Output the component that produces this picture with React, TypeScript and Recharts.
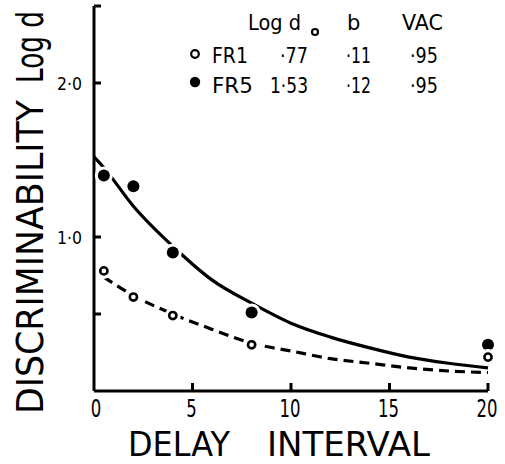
import { ComposedChart, Line, XAxis, YAxis } from "recharts";

const curveDelays = [0, 0.5, 2, 4, 6, 8, 10, 12, 14, 16, 18, 20];
const fr5Fit = [1.52, 1.45, 1.2, 0.94, 0.72, 0.57, 0.44, 0.35, 0.28, 0.22, 0.18, 0.15];
const fr1Fit = [null, 0.74, 0.62, 0.5, 0.4, 0.31, 0.26, 0.21, 0.18, 0.15, 0.13, 0.12];

// observed points
const pointDelays = [0.5, 2, 4, 8, 20];
const fr1Points = [0.78, 0.61, 0.49, 0.3, 0.22];
const fr5Points = [1.4, 1.33, 0.9, 0.51, 0.3];

const xTicks = [0, 5, 10, 15, 20];
const xTickLabels = ["0", "5", "10", "15", "20"];
const yTicks = [0.5, 1, 2, 2.5];
const yTickLabels = ["", "1·0", "2·0", ""];

const tableHeader = ["Log d", "b", "VAC"];
const groups = ["FR1", "FR5"];
const logD0 = ["·77", "1·53"];
const bValues = ["·11", "·12"];
const vacValues = ["·95", "·95"];

const FONT = "'DejaVu Sans', sans-serif";

const rows = curveDelays.map((t, i) => {
  const pi = pointDelays.indexOf(t);
  return {
    t,
    fr5: fr5Fit[i],
    fr1: fr1Fit[i],
    fr5pt: pi >= 0 ? fr5Points[pi] : null,
    fr1pt: pi >= 0 ? fr1Points[pi] : null,
  };
});
pointDelays.forEach((t, pi) => {
  if (!curveDelays.includes(t)) {
    rows.push({ t, fr5: null as any, fr1: null, fr5pt: fr5Points[pi], fr1pt: fr1Points[pi] });
  }
});
rows.sort((a, b) => a.t - b.t);

// text squeezed to a target width: natural width (em) is an estimate for DejaVu Sans
function Squeezed({ x, y, rotate = 0, size, em, width, anchor = "start", children }: any) {
  const natural = em * size;
  const sx = width / natural;
  return (
    <text
      transform={`translate(${x},${y}) rotate(${rotate}) scale(${sx},1)`}
      fontSize={size}
      textAnchor={anchor}
      textLength={natural}
      lengthAdjust="spacingAndGlyphs"
    >
      {children}
    </text>
  );
}

function XTick(props: any) {
  const { x, y, payload } = props;
  const i = xTicks.indexOf(payload.value);
  const label = xTickLabels[i] ?? String(payload.value);
  return (
    <g>
      {payload.value !== 0 && <path d={`M${x},${y} L${x},${y - 8}`} stroke="#000" strokeWidth={3} fill="none" />}
      <g fontFamily={FONT} fill="#000">
        <Squeezed
          x={payload.value === 0 ? x + 2 : x - 1}
          y={y + 26}
          size={24}
          em={label.length * 0.636}
          width={label.length * 10.5}
          anchor="middle"
        >
          {label}
        </Squeezed>
      </g>
    </g>
  );
}

function YTick(props: any) {
  const { x, y, payload } = props;
  const i = yTicks.indexOf(payload.value);
  const label = yTickLabels[i] ?? "";
  return (
    <g>
      <path d={`M${x},${y} L${x + 7},${y}`} stroke="#000" strokeWidth={3} fill="none" />
      {label && (
        <g fontFamily={FONT} fill="#000">
          <Squeezed x={x - 12} y={y + 6.5} size={18} em={1.59} width={25} anchor="end">
            {label}
          </Squeezed>
        </g>
      )}
    </g>
  );
}

function FilledDot(props: any) {
  const { cx, cy, index } = props;
  if (cy == null || isNaN(cy)) return <g key={"f" + index} />;
  return (
    <g key={"f" + index}>
      <circle cx={cx} cy={cy} r={9} fill="#fff" />
      <circle cx={cx} cy={cy} r={6} fill="#000" />
    </g>
  );
}

function OpenDot(props: any) {
  const { cx, cy, index } = props;
  if (cy == null || isNaN(cy)) return <g key={"o" + index} />;
  return (
    <g key={"o" + index}>
      <circle cx={cx} cy={cy} r={8} fill="#fff" />
      <circle cx={cx} cy={cy} r={3.6} fill="#fff" stroke="#000" strokeWidth={2.6} />
    </g>
  );
}

export default function App() {
  const colX = [212, 308, 346, 410];
  const rowY = [63, 93];
  return (
    <div style={{ position: "absolute", left: 0, top: 0, width: 505, height: 464, background: "#fff" }}>
      <ComposedChart width={505} height={464} data={rows} margin={{ top: 6, right: 17, bottom: 43, left: 34 }}>
        <XAxis
          type="number"
          dataKey="t"
          domain={[0, 20]}
          ticks={xTicks}
          tickSize={0}
          tickMargin={0}
          tickLine={false}
          axisLine={{ stroke: "#000", strokeWidth: 3 }}
          tick={<XTick />}
          height={30}
          interval={0}
        />
        <YAxis
          type="number"
          domain={[0, 2.5]}
          ticks={yTicks}
          tickSize={0}
          tickMargin={0}
          tickLine={false}
          axisLine={{ stroke: "#000", strokeWidth: 3 }}
          tick={<YTick />}
          width={60}
          interval={0}
          allowDataOverflow
        />
        <Line
          type="monotone"
          dataKey="fr5"
          stroke="#000"
          strokeWidth={3.2}
          dot={false}
          connectNulls
          isAnimationActive={false}
        />
        <Line
          type="monotone"
          dataKey="fr1"
          stroke="#000"
          strokeWidth={3.2}
          strokeDasharray="10 6"
          dot={false}
          connectNulls
          isAnimationActive={false}
        />
        <Line dataKey="fr5pt" stroke="none" strokeWidth={0} dot={FilledDot} activeDot={false} isAnimationActive={false} />
        <Line dataKey="fr1pt" stroke="none" strokeWidth={0} dot={OpenDot} activeDot={false} isAnimationActive={false} />
      </ComposedChart>

      <svg
        width={505}
        height={464}
        style={{ position: "absolute", left: 0, top: 0, pointerEvents: "none" }}
        fontFamily={FONT}
        fill="#000"
      >
        {/* axis titles */}
        <Squeezed x={43} y={414} rotate={-90} size={37} em={9.033} width={314}>
          DISCRIMINABILITY
        </Squeezed>
        <Squeezed x={43} y={83} rotate={-90} size={37} em={2.757} width={72}>
          Log d
        </Squeezed>
        <Squeezed x={128} y={456} size={33} em={3.254} width={102}>
          DELAY
        </Squeezed>
        <Squeezed x={267} y={456} size={33} em={4.906} width={163}>
          INTERVAL
        </Squeezed>

        {/* fit parameter table */}
        <Squeezed x={248} y={30} size={21} em={2.757} width={53}>
          {tableHeader[0]}
        </Squeezed>
        <circle cx={315} cy={32} r={3} fill="none" stroke="#000" strokeWidth={2.2} />
        <text x={347} y={30} fontSize={21}>
          {tableHeader[1]}
        </text>
        <Squeezed x={402} y={30} size={21} em={2.052} width={41}>
          {tableHeader[2]}
        </Squeezed>
        <circle cx={195} cy={54} r={3.8} fill="#fff" stroke="#000" strokeWidth={2.2} />
        <circle cx={195} cy={82} r={5.2} fill="#000" />
        {groups.map((g, i) => (
          <g key={g}>
            <Squeezed x={colX[0]} y={rowY[i]} size={22} em={1.966} width={i === 0 ? 36 : 41}>
              {g}
            </Squeezed>
            <Squeezed x={colX[1]} y={rowY[i]} size={22} em={i === 0 ? 1.59 : 2.226} width={i === 0 ? 28 : 38} anchor="end">
              {logD0[i]}
            </Squeezed>
            <Squeezed x={colX[2]} y={rowY[i]} size={22} em={1.59} width={25}>
              {bValues[i]}
            </Squeezed>
            <Squeezed x={colX[3]} y={rowY[i]} size={22} em={1.59} width={28}>
              {vacValues[i]}
            </Squeezed>
          </g>
        ))}
      </svg>
    </div>
  );
}
